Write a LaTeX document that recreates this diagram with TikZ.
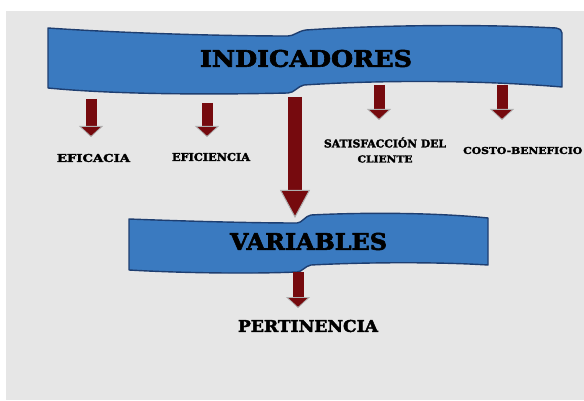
\documentclass[tikz,border=0pt]{standalone}
\usepackage{fontspec}
\setmainfont{DejaVu Serif}[BoldFeatures={FakeBold=2.5}]
\usepackage{graphicx}
\usetikzlibrary{arrows.meta}
\definecolor{bannerblue}{RGB}{58,122,192}
\definecolor{bannerline}{RGB}{30,62,112}
\definecolor{arrowred}{RGB}{118,10,14}
\definecolor{paper}{RGB}{230,230,230}
\definecolor{tipedge}{RGB}{175,175,175}
\tikzset{
  banner/.style={fill=bannerblue, draw=bannerline, line width=1.4pt, line join=round},
  label/.style={inner sep=0pt, text=black, font=\bfseries},
  smallarrow/.style={draw=arrowred, line width=11pt, line cap=butt,
    -{Triangle[length=11pt, width=24pt, fill=arrowred, color=tipedge, line width=0.8pt]}},
  bigarrow/.style={draw=arrowred, line width=14pt, line cap=butt,
    -{Triangle[length=28pt, width=30pt, fill=arrowred, color=tipedge, line width=1pt]}}
}
\newcommand{\fitbox}[3]{\resizebox{#1pt}{#2pt}{#3}}
\begin{document}
\begin{tikzpicture}[x=1pt, y=-1pt]
  \useasboundingbox (0,0) rectangle (584,401);
  \clip (0,0) rectangle (584,401);
  \fill[white] (0,0) rectangle (584,401);
  \fill[paper] (6,11) rectangle (584,400);

  % top ribbon
  \draw[banner] (48,28) .. controls (120,33) and (220,36) .. (288,36)
    .. controls (294,36) and (298,31) .. (306,30)
    .. controls (380,25) and (480,24) .. (556,28)
    .. controls (560,29) and (562,30) .. (562,33)
    -- (562,87)
    .. controls (480,80) and (380,80) .. (304,85)
    .. controls (298,86) and (294,93) .. (288,93)
    .. controls (200,95) and (110,94) .. (48,88) -- cycle;
  \node[label] (ind) at (306,58.5) {\fitbox{212}{17}{INDICADORES}};

  % second ribbon
  \draw[banner] (129,219) .. controls (180,221) and (250,223) .. (297,223)
    .. controls (302,223) and (305,216) .. (311,215)
    .. controls (370,212) and (440,213) .. (488,218)
    -- (488,265)
    .. controls (440,262) and (370,262) .. (311,265)
    .. controls (305,266) and (302,272) .. (297,272)
    .. controls (250,274) and (180,273) .. (129,270) -- cycle;
  \node[label] (var) at (308.5,241.5) {\fitbox{157}{17}{VARIABLES}};

  % labels
  \node[label] (efa) at (93.5,158) {\fitbox{73}{8}{EFICACIA}};
  \node[label] (efi) at (211,157) {\fitbox{78}{8}{EFICIENCIA}};
  \node[label, align=center] (sat) at (385,150)
    {\resizebox{122pt}{!}{SATISFACCIÓN DEL}\\[3pt]\fitbox{55}{7}{CLIENTE}};
  \node[label, anchor=west] (cb) at (463,150.5) {\fitbox{119}{7}{COSTO-BENEFICIO}};
  \node[label] (per) at (308,326) {\fitbox{140}{12}{PERTINENCIA}};

  % arrow end points
  \coordinate (a1s) at (91,99);   \coordinate (a1e) at (91,137);
  \coordinate (a2s) at (207,103); \coordinate (a2e) at (207,137);
  \coordinate (a3s) at (295,97);  \coordinate (a3e) at (295,218);
  \coordinate (a4s) at (379,85);  \coordinate (a4e) at (379,120);
  \coordinate (a5s) at (502,85);  \coordinate (a5e) at (502,120);
  \coordinate (a6s) at (298,272); \coordinate (a6e) at (298,308);

  \draw[smallarrow] (a1s) -- (a1e);
  \draw[smallarrow] (a2s) -- (a2e);
  \draw[bigarrow] (a3s) -- (a3e);
  \draw[smallarrow] (a4s) -- (a4e);
  \draw[smallarrow] (a5s) -- (a5e);
  \draw[smallarrow] (a6s) -- (a6e);
\end{tikzpicture}
\end{document}
